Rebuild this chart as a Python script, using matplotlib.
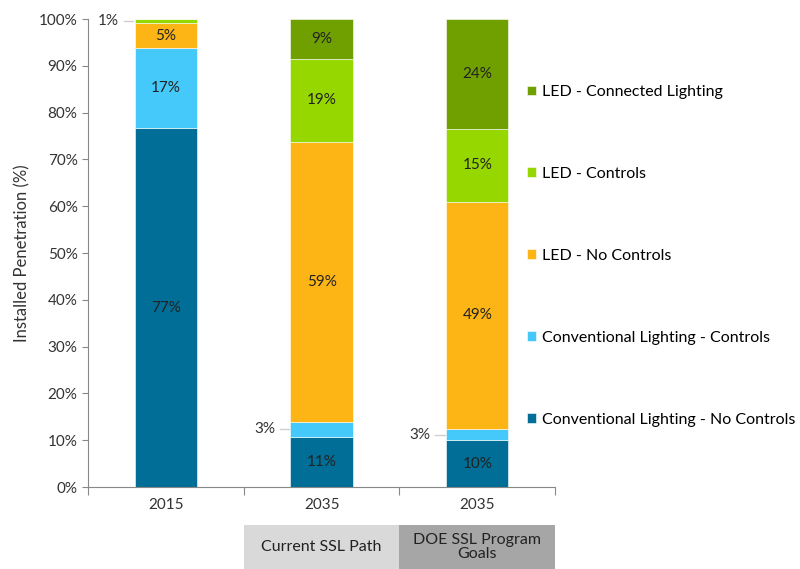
import matplotlib.pyplot as plt
import numpy as np
from matplotlib.patches import Rectangle
import matplotlib.transforms as mtransforms

plt.rcParams['font.family'] = ['Lato', 'DejaVu Sans']

# catégories et séries (valeurs en %)
years = ["2015", "2035", "2035"]
series = ["Conventional Lighting - No Controls", "Conventional Lighting - Controls",
          "LED - No Controls", "LED - Controls", "LED - Connected Lighting"]
colors = ["#006E96", "#45C9FA", "#FDB515", "#97D700", "#70A000"]
values = np.array([
    [76.7, 10.8, 10.0],   # conv no controls
    [17.0, 3.2, 2.4],     # conv controls
    [5.5, 59.8, 48.6],    # LED no controls
    [0.8, 17.7, 15.5],    # LED controls
    [0.0, 8.5, 23.5],     # LED connected
])
labels = [
    ["77%", "11%", "10%"],
    ["17%", "3%", "3%"],
    ["5%", "59%", "49%"],
    ["1%", "19%", "15%"],
    ["", "9%", "24%"],
]
scenarios = ["Current SSL Path", "DOE SSL Program\nGoals"]

fig = plt.figure(figsize=(8, 5.69), dpi=100)
ax = fig.add_axes([0.11, 0.144, 0.584, 0.8226])

x = np.arange(len(years))
w = 0.4
bottom = np.zeros(len(years))
for i in range(len(series)):
    ax.bar(x, values[i], w, bottom=bottom, color=colors[i], edgecolor="white",
           linewidth=0.4, label=series[i])
    for j in range(len(years)):
        lab = labels[i][j]
        if lab == "":
            continue
        ymid = bottom[j] + values[i][j] / 2
        if values[i][j] < 4:
            # étiquette sortie à gauche avec trait de rappel
            ax.plot([j - 0.27, j - 0.21], [ymid, ymid], color="#d0d0d0", lw=1)
            ax.text(j - 0.30, ymid, lab, ha="right", va="center", fontsize=11,
                    color="#333333")
        else:
            ax.text(j, ymid, lab, ha="center", va="center", fontsize=11,
                    color="#222222")
    bottom += values[i]

ax.set_xlim(-0.5, 2.5)
ax.set_ylim(0, 100)
ax.set_yticks(np.arange(0, 101, 10))
ax.set_yticklabels([f"{v}%" for v in range(0, 101, 10)], fontsize=11, color="#333333")
ax.set_xticks([-0.5, 0.5, 1.5, 2.5])
ax.set_xticklabels([])
ax.set_xticks(x, minor=True)
ax.set_xticklabels(years, minor=True, fontsize=11, color="#333333")
ax.tick_params(axis="x", which="minor", length=0, pad=8)
ax.tick_params(axis="x", which="major", length=6, color="#888888")
ax.tick_params(axis="y", length=4, color="#888888")
for s in ["top", "right"]:
    ax.spines[s].set_visible(False)
ax.spines["left"].set_color("#888888")
ax.spines["bottom"].set_color("#888888")
ax.set_ylabel("Installed Penetration (%)", fontsize=12, color="#333333", labelpad=6)

# cases sous l'axe pour les scénarios 2035
trans = mtransforms.blended_transform_factory(ax.transData, ax.transAxes)
box_colors = ["#D9D9D9", "#A6A6A6"]
for k in range(2):
    ax.add_patch(Rectangle((0.5 + k, -0.176), 1, 0.095, transform=trans,
                           facecolor=box_colors[k], edgecolor="none", clip_on=False))
    ax.text(1 + k, -0.128, scenarios[k], transform=trans, ha="center", va="center",
            fontsize=11.5, color="#222222", linespacing=1.0)

# légende, ordre inversé
h, l = ax.get_legend_handles_labels()
ax.legend(h[::-1], l[::-1], loc="center left", bbox_to_anchor=(0.94, 0.494),
          frameon=False, fontsize=11.5, handlelength=0.55, handleheight=0.55,
          handletextpad=0.35, labelspacing=4.25, borderaxespad=0, borderpad=0)

fig.savefig("out.png", dpi=100)
